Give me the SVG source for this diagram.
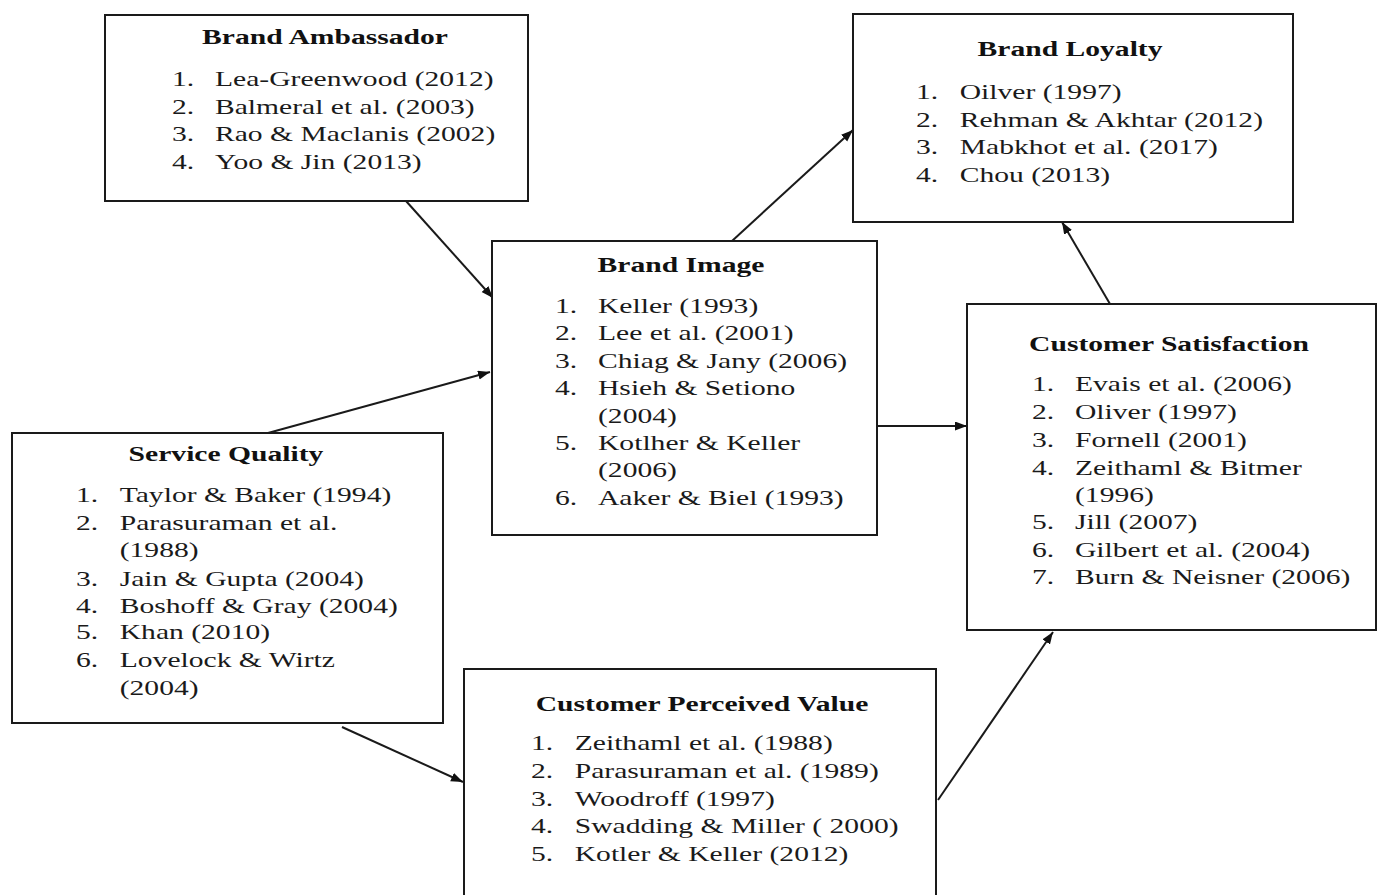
<svg xmlns="http://www.w3.org/2000/svg" width="1381" height="895" viewBox="0 0 1381 895">
<defs>
<style>
.box{fill:#fff;stroke:#1a1a1a;stroke-width:2}
.t{font-family:"Liberation Serif","Times New Roman",serif;font-size:21px;fill:#1a1a1a}
.h{font-family:"Liberation Serif","Times New Roman",serif;font-size:21px;font-weight:bold;fill:#111;text-anchor:middle}
.c{stroke:#1a1a1a;stroke-width:2;fill:none;marker-end:url(#ah)}
</style>
<marker id="ah" markerUnits="userSpaceOnUse" markerWidth="13" markerHeight="10" refX="12" refY="4.5" orient="auto">
<path d="M0,0 L12,4.5 L0,9 z" fill="#111"/>
</marker>
</defs>
<rect width="1381" height="895" fill="#fff"/>

<g id="connectors">
<line class="c" x1="406" y1="201" x2="493" y2="298"/>
<line class="c" x1="732" y1="241" x2="853" y2="130"/>
<line class="c" x1="1110" y1="304" x2="1062" y2="222"/>
<line class="c" x1="877" y1="426" x2="967" y2="426"/>
<line class="c" x1="268" y1="433" x2="490" y2="372"/>
<line class="c" x1="342" y1="727" x2="463" y2="782"/>
<line class="c" x1="938" y1="800" x2="1053" y2="632"/>
</g>

<g id="brand-ambassador">
<rect class="box" x="105" y="15" width="423" height="186"/>
<text class="h" transform="translate(325,44) scale(1.41,1)">Brand Ambassador</text>
<g transform="translate(172,0) scale(1.41,1)">
<text class="t" x="0" y="86">1.</text><text class="t" x="30.5" y="86">Lea-Greenwood (2012)</text>
<text class="t" x="0" y="114">2.</text><text class="t" x="30.5" y="114">Balmeral et al. (2003)</text>
<text class="t" x="0" y="141">3.</text><text class="t" x="30.5" y="141">Rao &amp; Maclanis (2002)</text>
<text class="t" x="0" y="169">4.</text><text class="t" x="30.5" y="169">Yoo &amp; Jin (2013)</text>
</g>
</g>

<g id="brand-loyalty">
<rect class="box" x="853" y="14" width="440" height="208"/>
<text class="h" transform="translate(1070,56) scale(1.41,1)">Brand Loyalty</text>
<g transform="translate(916,0) scale(1.41,1)">
<text class="t" x="0" y="99">1.</text><text class="t" x="31" y="99">Oilver (1997)</text>
<text class="t" x="0" y="127">2.</text><text class="t" x="31" y="127">Rehman &amp; Akhtar (2012)</text>
<text class="t" x="0" y="154">3.</text><text class="t" x="31" y="154">Mabkhot et al. (2017)</text>
<text class="t" x="0" y="182">4.</text><text class="t" x="31" y="182">Chou (2013)</text>
</g>
</g>

<g id="brand-image">
<rect class="box" x="492" y="241" width="385" height="294"/>
<text class="h" transform="translate(681,272) scale(1.41,1)">Brand Image</text>
<g transform="translate(555,0) scale(1.41,1)">
<text class="t" x="0" y="313">1.</text><text class="t" x="30.5" y="313">Keller (1993)</text>
<text class="t" x="0" y="340">2.</text><text class="t" x="30.5" y="340">Lee et al. (2001)</text>
<text class="t" x="0" y="368">3.</text><text class="t" x="30.5" y="368">Chiag &amp; Jany (2006)</text>
<text class="t" x="0" y="395">4.</text><text class="t" x="30.5" y="395">Hsieh &amp; Setiono</text>
<text class="t" x="30.5" y="423">(2004)</text>
<text class="t" x="0" y="450">5.</text><text class="t" x="30.5" y="450">Kotlher &amp; Keller</text>
<text class="t" x="30.5" y="477">(2006)</text>
<text class="t" x="0" y="505">6.</text><text class="t" x="30.5" y="505">Aaker &amp; Biel (1993)</text>
</g>
</g>

<g id="customer-satisfaction">
<rect class="box" x="967" y="304" width="409" height="326"/>
<text class="h" transform="translate(1169,351) scale(1.41,1)">Customer Satisfaction</text>
<g transform="translate(1032,0) scale(1.41,1)">
<text class="t" x="0" y="391">1.</text><text class="t" x="30.5" y="391">Evais et al. (2006)</text>
<text class="t" x="0" y="419">2.</text><text class="t" x="30.5" y="419">Oliver (1997)</text>
<text class="t" x="0" y="447">3.</text><text class="t" x="30.5" y="447">Fornell (2001)</text>
<text class="t" x="0" y="475">4.</text><text class="t" x="30.5" y="475">Zeithaml &amp; Bitmer</text>
<text class="t" x="30.5" y="502">(1996)</text>
<text class="t" x="0" y="529">5.</text><text class="t" x="30.5" y="529">Jill (2007)</text>
<text class="t" x="0" y="557">6.</text><text class="t" x="30.5" y="557">Gilbert et al. (2004)</text>
<text class="t" x="0" y="584">7.</text><text class="t" x="30.5" y="584">Burn &amp; Neisner (2006)</text>
</g>
</g>

<g id="service-quality">
<rect class="box" x="12" y="433" width="431" height="290"/>
<text class="h" transform="translate(226,461) scale(1.41,1)">Service Quality</text>
<g transform="translate(76,0) scale(1.41,1)">
<text class="t" x="0" y="502">1.</text><text class="t" x="31" y="502">Taylor &amp; Baker (1994)</text>
<text class="t" x="0" y="530">2.</text><text class="t" x="31" y="530">Parasuraman et al.</text>
<text class="t" x="31" y="557">(1988)</text>
<text class="t" x="0" y="586">3.</text><text class="t" x="31" y="586">Jain &amp; Gupta (2004)</text>
<text class="t" x="0" y="613">4.</text><text class="t" x="31" y="613">Boshoff &amp; Gray (2004)</text>
<text class="t" x="0" y="639">5.</text><text class="t" x="31" y="639">Khan (2010)</text>
<text class="t" x="0" y="667">6.</text><text class="t" x="31" y="667">Lovelock &amp; Wirtz</text>
<text class="t" x="31" y="695">(2004)</text>
</g>
</g>

<g id="customer-perceived-value">
<rect class="box" x="464" y="669" width="472" height="240"/>
<text class="h" transform="translate(702,711) scale(1.41,1)">Customer Perceived Value</text>
<g transform="translate(531,0) scale(1.41,1)">
<text class="t" x="0" y="750">1.</text><text class="t" x="31" y="750">Zeithaml et al. (1988)</text>
<text class="t" x="0" y="778">2.</text><text class="t" x="31" y="778">Parasuraman et al. (1989)</text>
<text class="t" x="0" y="806">3.</text><text class="t" x="31" y="806">Woodroff (1997)</text>
<text class="t" x="0" y="833">4.</text><text class="t" x="31" y="833">Swadding &amp; Miller ( 2000)</text>
<text class="t" x="0" y="861">5.</text><text class="t" x="31" y="861">Kotler &amp; Keller (2012)</text>
</g>
</g>
</svg>
